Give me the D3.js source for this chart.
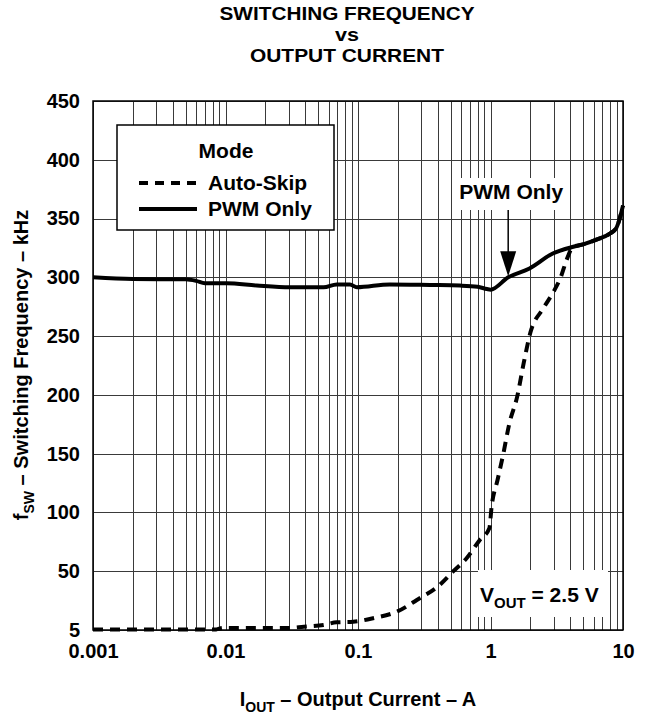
<!DOCTYPE html>
<html>
<head>
<meta charset="utf-8">
<script src="https://cdn.jsdelivr.net/npm/d3@7"></script>
<style>
  html, body { margin: 0; padding: 0; background: #fff; }
  svg { display: block; }
  text { font-family: "Liberation Sans", Arial, Helvetica, sans-serif; font-weight: bold; fill: #000; }
</style>
</head>
<body>
<script>
// ---------------- data ----------------
const titleLines = ["SWITCHING FREQUENCY", "vs", "OUTPUT CURRENT"];
const xTickValues = [0.001, 0.01, 0.1, 1, 10];
const xTickLabels = ["0.001", "0.01", "0.1", "1", "10"];
const yTickValues = [0, 50, 100, 150, 200, 250, 300, 350, 400, 450];
const yTickLabels = ["5", "50", "100", "150", "200", "250", "300", "350", "400", "450"];

const seriesNames = ["Auto-Skip", "PWM Only"];

const pwmCurrent = [0.001, 0.002, 0.005, 0.006, 0.007, 0.0102, 0.0172, 0.0306, 0.055, 0.069, 0.087, 0.098, 0.174, 0.35, 0.59, 0.8, 0.94, 1.0, 1.36, 1.97, 2.95, 4.22, 5.0, 6.3, 7.9, 8.9, 10];
const pwmFreq    = [300, 298.6, 298.3, 297, 295, 295, 293, 291.5, 291.5, 294, 294, 291.5, 294, 293.5, 293, 292, 290, 289.5, 300, 307.6, 320.3, 326, 328, 332, 337, 342, 361];

const skipCurrent = [0.001, 0.002, 0.005, 0.0085, 0.0095, 0.015, 0.029, 0.039, 0.055, 0.069, 0.092, 0.13, 0.2, 0.278, 0.41, 0.52, 0.66, 0.83, 0.98, 1.02, 1.13, 1.25, 1.39, 1.59, 1.78, 2.0, 2.5, 3.0, 3.4, 3.75, 4.2, 5.0, 6.3, 7.9, 8.9, 10];
const skipFreq    = [0.5, 0.5, 0.5, 0.5, 1.7, 1.7, 1.7, 2.8, 4.3, 6.5, 7, 10, 16, 25.5, 38, 49.6, 61, 76.6, 86.5, 105, 127.6, 150, 176, 198.5, 227, 253, 273.5, 288, 300.5, 314.7, 326, 328, 332, 337, 342, 361];

const annotationText = "PWM Only";
const annotationCurrent = 1.36;
const annotationFreq = 300;
const voutLabel = ["V", "OUT", " = 2.5 V"];

// ---------------- layout ----------------
const W = 647, H = 719;
const m = { left: 93, right: 24, top: 101, bottom: 89 };
const pw = W - m.left - m.right;   // 530
const ph = H - m.top - m.bottom;   // 529

const svg = d3.select("body").append("svg").attr("width", W).attr("height", H);

const x = d3.scaleLog().domain([0.001, 10]).range([m.left, m.left + pw]);
const y = d3.scaleLinear().domain([0, 450]).range([m.top + ph, m.top]);

// minor log grid values (1..9 per decade)
const gridX = [];
for (let d = 0.001; d < 10; d *= 10) {
  for (let k = 1; k <= 9; k++) gridX.push(+(d * k).toPrecision(3));
}
gridX.push(10);

// grid
svg.append("g")
  .attr("transform", `translate(0,${m.top + ph})`)
  .call(d3.axisBottom(x).tickValues(gridX).tickSize(-ph).tickFormat(""))
  .call(g => g.select(".domain").remove())
  .call(g => g.selectAll("line").attr("stroke", "#3a3a3a").attr("stroke-width", 1).attr("shape-rendering", "crispEdges"));

svg.append("g")
  .attr("transform", `translate(${m.left},0)`)
  .call(d3.axisLeft(y).tickValues(yTickValues).tickSize(-pw).tickFormat(""))
  .call(g => g.select(".domain").remove())
  .call(g => g.selectAll("line").attr("stroke", "#3a3a3a").attr("stroke-width", 1).attr("shape-rendering", "crispEdges"));

// frame
svg.append("rect")
  .attr("x", m.left).attr("y", m.top).attr("width", pw).attr("height", ph)
  .attr("fill", "none").attr("stroke", "#000").attr("stroke-width", 1.5);

// axes labels
svg.append("g")
  .attr("transform", `translate(0,${m.top + ph})`)
  .call(d3.axisBottom(x).tickValues(xTickValues).tickSize(0).tickPadding(14)
    .tickFormat((d, i) => xTickLabels[i]))
  .call(g => g.select(".domain").remove())
  .call(g => g.selectAll("text").style("font-size", "20px").attr("font-family", null));

svg.append("g")
  .attr("transform", `translate(${m.left},0)`)
  .call(d3.axisLeft(y).tickValues(yTickValues).tickSize(0).tickPadding(13)
    .tickFormat((d, i) => yTickLabels[i]))
  .call(g => g.select(".domain").remove())
  .call(g => g.selectAll("text").style("font-size", "20px").attr("font-family", null));

// curves
const line = d3.line().x(d => x(d[0])).y(d => y(d[1])).curve(d3.curveMonotoneX);
const pwmData = pwmCurrent.map((c, i) => [c, pwmFreq[i]]);
const skipData = skipCurrent.map((c, i) => [c, skipFreq[i]]);

svg.append("path").datum(skipData).attr("d", line)
  .attr("fill", "none").attr("stroke", "#000").attr("stroke-width", 4)
  .attr("stroke-dasharray", "10,7");
svg.append("path").datum(pwmData).attr("d", line)
  .attr("fill", "none").attr("stroke", "#000").attr("stroke-width", 4)
  .attr("stroke-linejoin", "round");

// legend
const lg = svg.append("g");
lg.append("rect").attr("x", 117).attr("y", 125).attr("width", 217).attr("height", 105)
  .attr("fill", "#fff").attr("stroke", "#000").attr("stroke-width", 1.5);
lg.append("text").attr("x", 226).attr("y", 158).attr("text-anchor", "middle")
  .style("font-size", "21px").text("Mode");
lg.append("line").attr("x1", 139).attr("x2", 197).attr("y1", 183).attr("y2", 183)
  .attr("stroke", "#000").attr("stroke-width", 4).attr("stroke-dasharray", "9,7");
lg.append("text").attr("x", 208).attr("y", 190).style("font-size", "21px").text(seriesNames[0]);
lg.append("line").attr("x1", 139).attr("x2", 197).attr("y1", 209).attr("y2", 209)
  .attr("stroke", "#000").attr("stroke-width", 4);
lg.append("text").attr("x", 208).attr("y", 216).style("font-size", "21px").text(seriesNames[1]);

// PWM Only annotation with arrow
const ax = x(annotationCurrent), ayTip = y(annotationFreq) - 1;
svg.append("rect").attr("x", ax - 53).attr("y", 178).attr("width", 112).attr("height", 32).attr("fill", "#fff");
svg.append("text").attr("x", ax + 3).attr("y", 199).attr("text-anchor", "middle")
  .style("font-size", "21px").text(annotationText);
svg.append("line").attr("x1", ax).attr("x2", ax).attr("y1", 210).attr("y2", ayTip - 22)
  .attr("stroke", "#000").attr("stroke-width", 1.5);
svg.append("path")
  .attr("d", `M${ax - 8},${ayTip - 25} L${ax + 8},${ayTip - 25} L${ax},${ayTip} Z`)
  .attr("fill", "#000");

// V_OUT label
svg.append("rect").attr("x", 478).attr("y", 570).attr("width", 130).attr("height", 47).attr("fill", "#fff");
const vt = svg.append("text").attr("x", 480).attr("y", 602).style("font-size", "21px");
vt.append("tspan").text(voutLabel[0]);
vt.append("tspan").attr("dy", 6).style("font-size", "15px").text(voutLabel[1]);
vt.append("tspan").attr("dy", -6).text(voutLabel[2]);

// title (tight leading, slightly widened glyphs)
const titleWidths = [255, 24, 194];
svg.append("g").selectAll("text").data(titleLines).join("text")
  .attr("x", 347).attr("y", (d, i) => 20 + i * 21)
  .attr("text-anchor", "middle").style("font-size", "18px")
  .attr("textLength", (d, i) => titleWidths[i]).attr("lengthAdjust", "spacingAndGlyphs")
  .text(d => d);

// x axis title
const xt = svg.append("text").attr("x", 358).attr("y", 706).attr("text-anchor", "middle").style("font-size", "20px");
xt.append("tspan").text("I");
xt.append("tspan").attr("dy", 6).style("font-size", "14px").text("OUT");
xt.append("tspan").attr("dy", -6).text(" \u2013 Output Current \u2013 A");

// y axis title
const yt = svg.append("text").attr("transform", `translate(28,365) rotate(-90)`)
  .attr("text-anchor", "middle").style("font-size", "20px");
yt.append("tspan").text("f");
yt.append("tspan").attr("dy", 6).style("font-size", "14px").text("SW");
yt.append("tspan").attr("dy", -6).text(" \u2013 Switching Frequency \u2013 kHz");
</script>
</body>
</html>
